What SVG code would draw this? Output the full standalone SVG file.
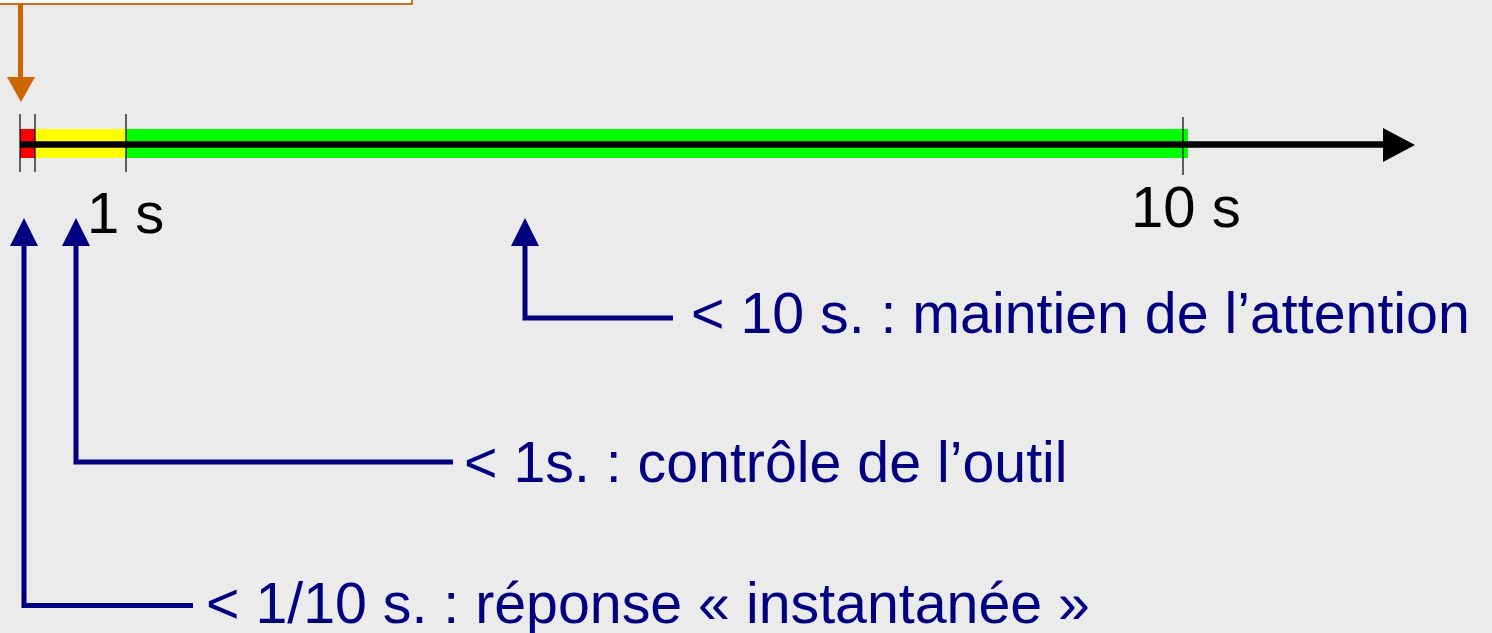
<svg xmlns="http://www.w3.org/2000/svg" width="1492" height="633" viewBox="0 0 1492 633">
  <defs>
    <style>
      .tick { stroke: #000; stroke-width: 1.2; }
      .scale { font-family: "Liberation Sans", Arial, sans-serif; font-size: 58px; fill: #000; }
      .label { font-family: "Liberation Sans", Arial, sans-serif; font-size: 57.3px; fill: #000080; }
      .lead { fill: none; stroke: #000080; stroke-width: 5; stroke-linejoin: miter; }
      .head { fill: #000080; }
    </style>
  </defs>

  <rect width="1492" height="633" fill="#EBEBEB"/>

  <!-- callout box at the top, mostly outside the frame -->
  <g id="callout">
    <rect x="-10" y="-40" width="422" height="44" fill="#FFFFFF" stroke="#D0701F" stroke-width="2"/>
    <line x1="20.5" y1="4" x2="20.5" y2="78" stroke="#CC6600" stroke-width="5"/>
    <polygon points="7,77 35,77 21,102" fill="#CC6600"/>
  </g>

  <!-- time axis with coloured ranges -->
  <g id="timeline">
    <rect x="20" y="129" width="15" height="29" fill="#FF0000"/>
    <rect x="35" y="129" width="91" height="29" fill="#FFFF00"/>
    <rect x="126" y="129" width="1062" height="29" fill="#00FF00"/>
    <line x1="20" y1="144.5" x2="1386" y2="144.5" stroke="#000" stroke-width="6.5"/>
    <polygon points="1383,128 1415,145 1383,162" fill="#000"/>
    <line class="tick" x1="20" y1="114" x2="20" y2="172"/>
    <line class="tick" x1="35" y1="114" x2="35" y2="172" stroke="#444"/>
    <line class="tick" x1="126" y1="114" x2="126" y2="172"/>
    <line class="tick" x1="1183" y1="117" x2="1183" y2="175"/>
    <text class="scale" x="87" y="233">1 s</text>
    <text class="scale" x="1131" y="227">10 s</text>
  </g>

  <!-- leader arrows -->
  <g id="connectors">
    <polyline class="lead" points="525,244 525,318 673,318"/>
    <polygon class="head" points="511,246 539,246 525,218"/>
    <polyline class="lead" points="76,244 76,462 453,462"/>
    <polygon class="head" points="62,246 90,246 76,218"/>
    <polyline class="lead" points="24,244 24,605.5 193,605.5"/>
    <polygon class="head" points="10,246 38,246 24,218"/>
  </g>

  <g id="attention">
    <text class="label" x="691" y="333">&lt; 10 s. : maintien de l’attention</text>
  </g>
  <g id="controle">
    <text class="label" x="464" y="482">&lt; 1s. : contrôle de l’outil</text>
  </g>
  <g id="instantane">
    <text class="label" x="206" y="623">&lt; 1/10 s. : réponse « instantanée »</text>
  </g>
</svg>
